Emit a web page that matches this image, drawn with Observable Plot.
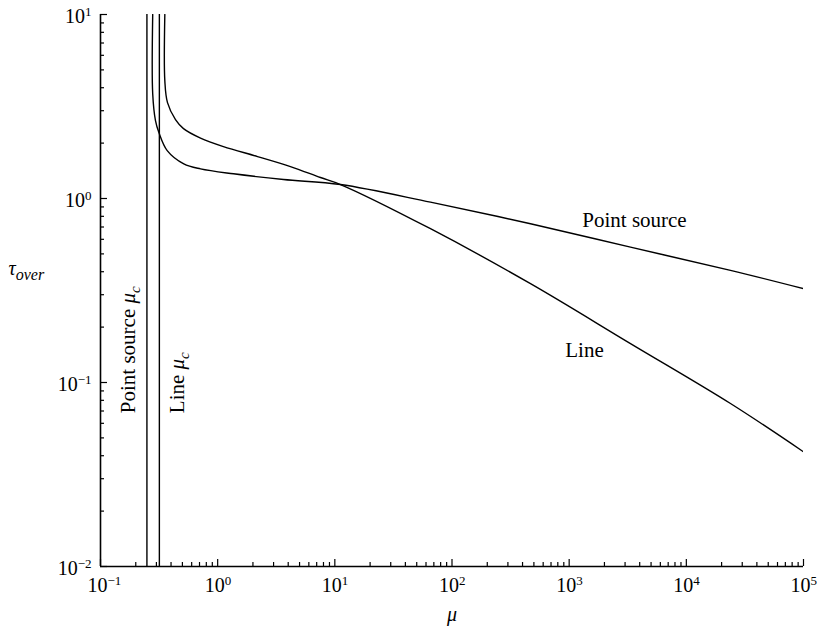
<!DOCTYPE html>
<html><head><meta charset="utf-8">
<script src="https://cdn.jsdelivr.net/npm/d3@7"></script>
<script src="https://cdn.jsdelivr.net/npm/@observablehq/plot@0.6"></script>
<style>body{margin:0;background:#fff} #chart svg{display:block} #chart text{font-family:"Liberation Serif","Times New Roman",serif}</style>
</head><body><div id="chart"></div>
<script>
// ---- data ----
const xDomain = [0.1, 1e5];
const yDomain = [0.01, 10];
const xDecadeExponents = [-1, 0, 1, 2, 3, 4, 5];
const yDecadeExponents = [-2, -1, 0, 1];
const minorMultipliers = [2, 3, 4, 5, 6, 7, 8, 9];

const pointSourceMu  = [0.279, 0.279, 0.2946, 0.3145, 0.371, 0.514, 0.714, 1.365, 3.646, 11.18, 65.5, 467.7, 3337, 23815, 100000];
const pointSourceTau = [10,    3.71,  2.65,   2.29,   1.822, 1.543, 1.449, 1.362, 1.268, 1.191, 0.955, 0.729, 0.544, 0.407, 0.3236];

const lineMu  = [0.354, 0.354, 0.373, 0.4366, 0.511, 0.714, 1.121, 2.188, 4.18, 7.54, 11.18, 65.5, 467.7, 3337, 23815, 100000];
const lineTau = [10,    4.37,  3.318, 2.684,  2.398, 2.130, 1.915, 1.690, 1.491, 1.300, 1.191, 0.685, 0.3445, 0.1628, 0.0769, 0.042];

const criticalMu = [0.249, 0.318];          // Point source μc, Line μc
const curveLabels = ["Point source", "Line"];
const curveLabelMu = [3610, 1351];
const curveLabelTau = [0.760, 0.1497];
const criticalLabels = ["Point source μ_c", "Line μ_c"];
const criticalLabelMu = [0.1734, 0.454];
const criticalLabelTau = [0.0681, 0.0681];

// ---- derived tables ----
const ps = pointSourceMu.map((x, i) => ({x, y: pointSourceTau[i]}));
const ln = lineMu.map((x, i) => ({x, y: lineTau[i]}));
const curveLab = curveLabels.map((t, i) => ({t, x: curveLabelMu[i], y: curveLabelTau[i]}));
const critLab = criticalLabels.map((t, i) => ({t, x: criticalLabelMu[i], y: criticalLabelTau[i]}));
const xMajor = xDecadeExponents.map(e => 10 ** e);
const yMajor = yDecadeExponents.map(e => 10 ** e);
const xMinor = xDecadeExponents.slice(0, -1).flatMap(e => minorMultipliers.map(m => m * 10 ** e));
const yMinor = yDecadeExponents.slice(0, -1).flatMap(e => minorMultipliers.map(m => m * 10 ** e));
const fmtExp = e => "10^" + String(e).replace("-", "\u2212");

const W = 817, H = 631, mL = 100, mR = 14, mT = 14, mB = 65;
const innerW = W - mL - mR, innerH = H - mT - mB;
const serif = "Liberation Serif, Times New Roman, serif";

const chart = Plot.plot({
  width: W, height: H,
  marginLeft: mL, marginRight: mR, marginTop: mT, marginBottom: mB,
  x: {type: "log", domain: xDomain, axis: null},
  y: {type: "log", domain: yDomain, axis: null},
  style: {fontFamily: serif, fontSize: "20px", background: "white", color: "black"},
  marks: [
    // ticks (inward)
    Plot.tickX(xMajor, {x: d => d, insetTop: innerH - 7, stroke: "black", strokeWidth: 1.2}),
    Plot.tickX(xMinor, {x: d => d, insetTop: innerH - 4, stroke: "black", strokeWidth: 1.2}),
    Plot.tickY(yMajor, {y: d => d, insetRight: innerW - 7, stroke: "black", strokeWidth: 1.2}),
    Plot.tickY(yMinor, {y: d => d, insetRight: innerW - 4, stroke: "black", strokeWidth: 1.2}),
    // axis lines
    Plot.ruleX([xDomain[0]], {stroke: "black", strokeWidth: 1.6}),
    Plot.ruleY([yDomain[0]], {stroke: "black", strokeWidth: 1.6}),
    // tick labels
    Plot.text(xDecadeExponents, {x: e => 10 ** e, frameAnchor: "bottom", dy: 25, dx: -13, textAnchor: "start", text: fmtExp, fontSize: 20, fontFamily: serif}),
    Plot.text(yDecadeExponents, {y: e => 10 ** e, frameAnchor: "left", dx: -9, dy: 2, textAnchor: "end", text: fmtExp, fontSize: 20, fontFamily: serif}),
    // axis titles
    Plot.text(["μ"], {text: d => d, frameAnchor: "bottom", dy: 54, fontStyle: "italic", fontSize: 20, fontFamily: serif}),
    Plot.text(["τ_over"], {text: d => d, frameAnchor: "left", dx: -92, dy: -22, textAnchor: "start", fontSize: 20, fontFamily: serif}),
    // critical μ lines
    Plot.ruleX(criticalMu, {stroke: "black", strokeWidth: 1.4}),
    // curves
    Plot.line(ps, {x: "x", y: "y", curve: "catmull-rom", stroke: "black", strokeWidth: 1.4, clip: true}),
    Plot.line(ln, {x: "x", y: "y", curve: "catmull-rom", stroke: "black", strokeWidth: 1.4, clip: true}),
    // labels
    Plot.text(curveLab, {x: "x", y: "y", text: "t", fontSize: 21, fontFamily: serif}),
    Plot.text(critLab, {x: "x", y: "y", text: "t", rotate: -90, textAnchor: "start", fontSize: 21, fontFamily: serif})
  ]
});

const NS = "http://www.w3.org/2000/svg";
function tspan(txt) { const s = document.createElementNS(NS, "tspan"); s.textContent = txt; return s; }
chart.querySelectorAll("text").forEach(t => {
  const s = t.textContent;
  let m;
  if ((m = s.match(/^10\^(.+)$/))) {
    t.textContent = "10";
    const sp = tspan(m[1]);
    sp.setAttribute("font-size", "13px");
    sp.setAttribute("dy", "-7px");
    t.appendChild(sp);
  } else if ((m = s.match(/^(.*?)([μτ])_(\w+)$/))) {
    t.textContent = m[1];
    const g = tspan(m[2]); g.setAttribute("font-style", "italic"); t.appendChild(g);
    const sub = tspan(m[3]); sub.setAttribute("font-style", "italic");
    sub.setAttribute("font-size", m[3].length > 1 ? "16px" : "15px"); sub.setAttribute("dy", "5px");
    t.appendChild(sub);
  }
});
document.getElementById("chart").appendChild(chart);
</script>
</body></html>
